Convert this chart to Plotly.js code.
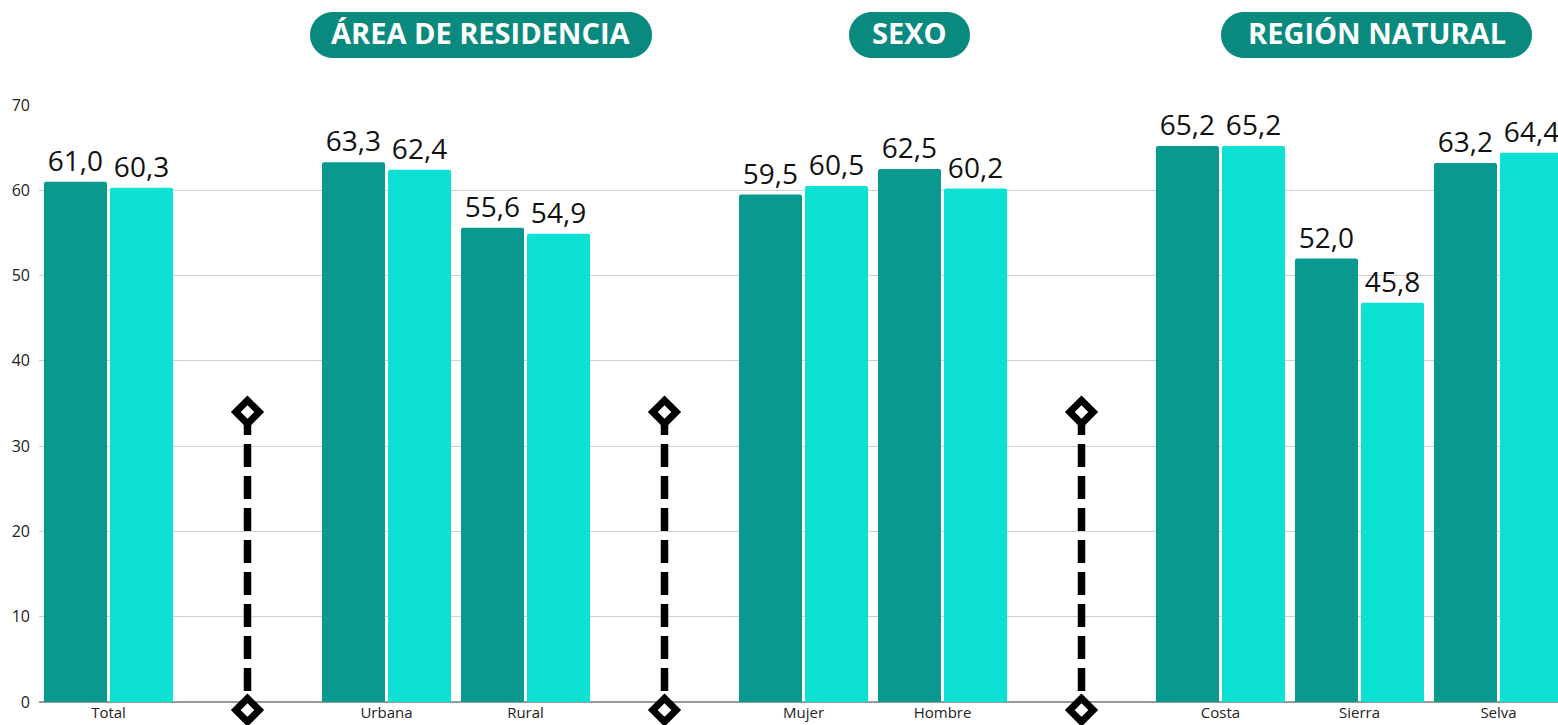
<!DOCTYPE html>
<html><head><meta charset="utf-8">
<script src="https://cdn.plot.ly/plotly-3.0.1.min.js"></script>
<style>html,body{margin:0;padding:0;background:#fff}#c{width:1558px;height:725px}</style>
</head><body><div id="c"></div>
<script>
// ---- data ----
const categories = ["Total", " ", "Urbana", "Rural", "  ", "Mujer", "Hombre", "   ", "Costa", "Sierra", "Selva"];
const separators = [" ", "  ", "   "];
const series1Values = [61.0, null, 63.3, 55.6, null, 59.5, 62.5, null, 65.2, 52.0, 63.2];
const series1Labels = ["61,0", "", "63,3", "55,6", "", "59,5", "62,5", "", "65,2", "52,0", "63,2"];
const series2Values = [60.3, null, 62.4, 54.9, null, 60.5, 60.2, null, 65.2, 46.8, 64.4];
const series2Labels = ["60,3", "", "62,4", "54,9", "", "60,5", "60,2", "", "65,2", "45,8", "64,4"];
const groupTitles = ["ÁREA DE RESIDENCIA", "SEXO", "REGIÓN NATURAL"];
const yTicks = [0, 10, 20, 30, 40, 50, 60, 70];

// ---- styling ----
const DARK = "#0a998f", LIGHT = "#0ce1d3", PILL = "#0a8a7f";
const FONT = "Open Sans, Noto Sans, sans-serif";
const W = 1558, H = 725, ML = 39, MR = 0, MT = 105, MB = 10;
const zeroPx = 702;                       // pixel row of value 0
const plotW = W - ML - MR, plotH = H - MT - MB;
const yDomBottom = (H - MB - zeroPx) / plotH;
const pxPerUnit = (zeroPx - MT) / 70;
const y2Min = -(H - MB - zeroPx) / pxPerUnit;
const pxPerCat = 139;

const traces = [
  {type: "bar", x: categories, y: series1Values, text: series1Labels, textposition: "outside",
   textfont: {size: 28, color: "#111", family: FONT}, marker: {color: DARK, cornerradius: 2}, cliponaxis: false,
   hoverinfo: "skip", showlegend: false},
  {type: "bar", x: categories, y: series2Values, text: series2Labels, textposition: "outside",
   textfont: {size: 28, color: "#111", family: FONT}, marker: {color: LIGHT, cornerradius: 2}, cliponaxis: false,
   hoverinfo: "skip", showlegend: false}
];
separators.forEach(s => {
  traces.push({type: "scatter", mode: "lines+markers", x: [s, s], y: [34.0, -0.95], yaxis: "y2",
    line: {color: "#000", width: 7.5, dash: "23px,9px"},
    marker: {symbol: "diamond", size: 18, color: "#fff", line: {color: "#000", width: 7}},
    cliponaxis: false, hoverinfo: "skip", showlegend: false});
});

// pill headers (pixel centers)
const pillCenters = [481, 909.5, 1376.5];
const pillWidths = [342, 121, 311];
const pillH = 46, pillCY = 35;
const shapes = [], annotations = [];
function pillPath(w, h) {
  const r = h / 2, k = 0.5523 * r, hw = w / 2;
  return `M ${-hw + r} ${-r} L ${hw - r} ${-r} C ${hw - r + k} ${-r} ${hw} ${-k} ${hw} 0 C ${hw} ${k} ${hw - r + k} ${r} ${hw - r} ${r} L ${-hw + r} ${r} C ${-hw + r - k} ${r} ${-hw} ${k} ${-hw} 0 C ${-hw} ${-k} ${-hw + r - k} ${-r} ${-hw + r} ${-r} Z`;
}
groupTitles.forEach((t, i) => {
  const px = (pillCenters[i] - ML) / plotW;
  const py = (H - MB - pillCY) / plotH;
  shapes.push({type: "path", xref: "paper", yref: "paper", xsizemode: "pixel", ysizemode: "pixel",
    xanchor: px, yanchor: py, path: pillPath(pillWidths[i], pillH), fillcolor: PILL, line: {width: 0}, layer: "above"});
  annotations.push({xref: "paper", yref: "paper", x: px, y: py, yshift: 3, text: "<b>" + t + "</b>", showarrow: false,
    xanchor: "center", yanchor: "middle", font: {family: FONT, size: 29, color: "#fff"}});
});

const layout = {
  width: W, height: H, margin: {l: ML, r: MR, t: MT, b: MB, pad: 0},
  paper_bgcolor: "#fff", plot_bgcolor: "rgba(0,0,0,0)",
  barmode: "group", bargap: 0.05, bargroupgap: 0.045,
  xaxis: {type: "category", categoryorder: "array", categoryarray: categories, anchor: "y",
    range: [-0.5, plotW / pxPerCat - 0.5], showgrid: false, zeroline: false, showline: false,
    ticks: "", ticklabelstandoff: 0, tickfont: {family: FONT, size: 15, color: "#222"}, fixedrange: true},
  yaxis: {domain: [yDomBottom, 1], range: [0, 70], tickvals: yTicks, ticktext: yTicks.map(String), showgrid: true,
    gridcolor: "#cfcfcf", gridwidth: 1, zeroline: true, zerolinecolor: "#999", zerolinewidth: 1.5,
    tickfont: {family: FONT, size: 16, color: "#222"}, ticks: "", ticklabelstandoff: 8, fixedrange: true},
  yaxis2: {domain: [0, 1], range: [y2Min, 70], visible: false, showgrid: false, zeroline: false, anchor: "x", fixedrange: true},
  shapes: shapes, annotations: annotations, font: {family: FONT}
};
Plotly.newPlot("c", traces, layout, {displayModeBar: false, staticPlot: true});
</script></body></html>
